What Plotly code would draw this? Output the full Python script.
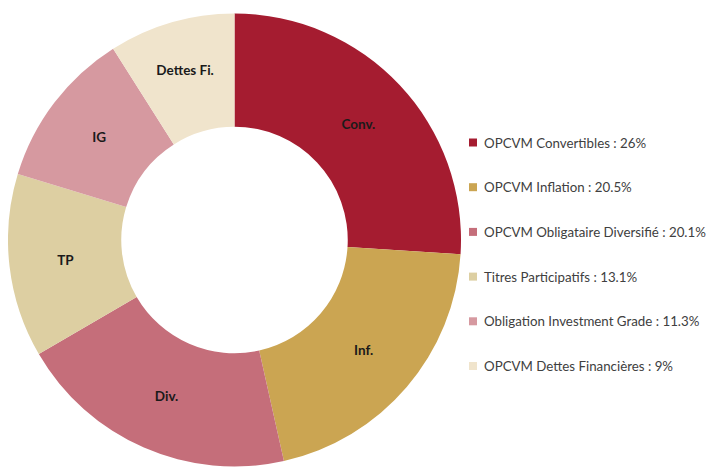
import plotly.graph_objects as go

short_labels = ["Conv.", "Inf.", "Div.", "TP", "IG", "Dettes Fi."]
long_labels = ["OPCVM Convertibles", "OPCVM Inflation", "OPCVM Obligataire Diversifié",
               "Titres Participatifs", "Obligation Investment Grade", "OPCVM Dettes Financières"]
values = [26, 20.5, 20.1, 13.1, 11.3, 9]
value_text = ["26%", "20.5%", "20.1%", "13.1%", "11.3%", "9%"]
colors = ["#A51C30", "#CBA552", "#C56E7A", "#DDCFA2", "#D699A0", "#F0E4CC"]

W, H = 717, 470
OFF = 8  # page body margin offset
R = 226.5
cx, cy = R, 240 - OFF

fig = go.Figure()
fig.add_trace(go.Pie(
    labels=short_labels, values=values, hole=0.5, sort=False, direction="clockwise",
    rotation=0, marker=dict(colors=colors, line=dict(width=0)),
    text=short_labels, textinfo="text", textposition="inside",
    insidetextorientation="horizontal",
    textfont=dict(family="Lato", size=13.5, color="#1a1a1a", weight="bold"),
    showlegend=False,
    domain=dict(x=[0, 2 * R / W], y=[(H - cy - R) / H, (H - cy + R) / H]),
))

# custom legend (swatch + text) on the right
row0, gap = 142.5 - OFF, 44.7
sw_x0, sw_size, txt_x = 469 - OFF, 8, 482 - OFF
shapes, annotations = [], []
for i, (lab, vt, col) in enumerate(zip(long_labels, value_text, colors)):
    yc = row0 + i * gap
    shapes.append(dict(type="rect", xref="paper", yref="paper",
                       x0=sw_x0 / W, x1=(sw_x0 + sw_size) / W,
                       y0=(H - yc - sw_size / 2) / H, y1=(H - yc + sw_size / 2) / H,
                       fillcolor=col, line=dict(width=0)))
    annotations.append(dict(xref="paper", yref="paper", x=txt_x / W, y=(H - yc) / H,
                            xanchor="left", yanchor="middle", showarrow=False,
                            text=f"{lab} : {vt}",
                            font=dict(family="Lato", size=13.3, color="#404040")))

fig.update_layout(
    width=W, height=H, margin=dict(l=0, r=0, t=0, b=0),
    paper_bgcolor="white", plot_bgcolor="white",
    shapes=shapes, annotations=annotations,
)
fig.write_html("out.html")
